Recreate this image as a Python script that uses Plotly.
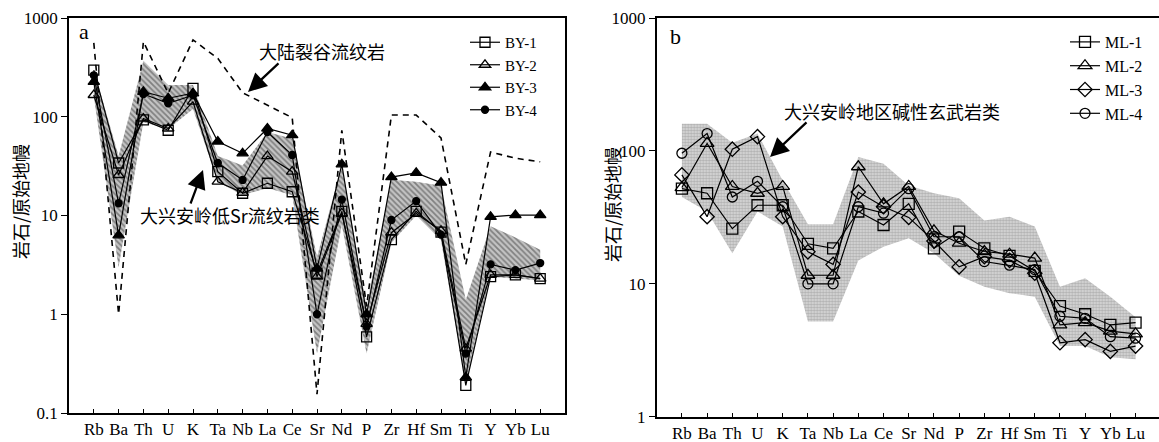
import plotly.graph_objects as go

W, H = 1159, 442

elements = ["Rb", "Ba", "Th", "U", "K", "Ta", "Nb", "La", "Ce", "Sr",
            "Nd", "P", "Zr", "Hf", "Sm", "Ti", "Y", "Yb", "Lu"]

# ---- panel a : 大兴安岭低Sr流纹岩 BY samples ----
BY1 = [297, 34, 93, 73, 194, 27.8, 16.8, 21.2, 17.4, 2.6, 11, 0.59, 5.7, 11, 6.8, 0.19, 2.4, 2.5, 2.3]
BY2 = [166, 25.7, 96, 76, 142, 22, 17, 40, 27.8, 2.4, 10.5, 0.8, 6.7, 10.5, 7.0, 0.45, 2.5, 2.5, 2.3]
BY3 = [226, 6.3, 179, 154, 173, 56, 42.6, 76, 65, 2.9, 33, 1.0, 24.5, 27, 21.5, 0.23, 9.7, 10.1, 10.1]
BY4 = [263, 13.3, 170, 137, 165, 34, 22.9, 70, 41, 1.0, 14.5, 0.75, 9, 14, 6.4, 0.40, 3.2, 2.8, 3.3]

# continental rift rhyolite (dashed)
rift = [560, 1.0, 575, 173, 600, 390, 175, 130, 98, 0.155, 73, 1.2, 104, 104, 61, 3.2, 44, 38, 35]

# 大兴安岭低Sr流纹岩类 field (hatched)
lowSr_upper = [300, 40, 370, 210, 210, 40, 32, 70, 60, 3.8, 32, 1.2, 23, 22, 20, 1.4, 7.8, 6.0, 4.5]
lowSr_lower = [160, 3.0, 88, 75, 120, 22, 16, 19, 16, 0.4, 8, 0.4, 5.3, 10, 5.6, 0.2, 2.4, 2.3, 2.2]

# ---- panel b : ML samples ----
ML1 = [52, 48, 26, 39, 39, 20, 18.5, 35, 27.7, 40, 18.5, 24.7, 18.5, 16.2, 12.5, 6.8, 5.9, 4.9, 5.1]
ML2 = [53, 114, 54, 48, 54, 11.6, 11.6, 76, 40, 54, 25, 20.2, 17.5, 16.7, 15.6, 4.9, 5.1, 4.4, 4.2]
ML3 = [66, 32, 103, 128, 32, 17.4, 14, 49, 38, 31.6, 21, 13.4, 16, 15, 12, 3.6, 3.8, 3.1, 3.4]
ML4 = [96, 135, 45, 59, 38, 10, 10, 38, 34, 52, 22.6, 22.6, 14.7, 13.8, 12.8, 5.7, 5.5, 4.0, 3.9]

# 大兴安岭地区碱性玄武岩类 field (stippled)
basalt_upper = [160, 160, 115, 135, 60, 28, 28, 90, 80, 55, 48, 44, 30, 32, 27, 9.5, 11, 8, 5.6]
basalt_lower = [45, 35, 17, 35, 27, 5.2, 5.2, 15, 19, 22, 17, 11.5, 9.5, 8.5, 8, 3.4, 3.4, 2.8, 2.7]

idx = list(range(len(elements)))

fig = go.Figure()

def band(upper, lower, xa, ya, pattern):
    xs = idx + idx[::-1]
    ys = upper + lower[::-1]
    fig.add_trace(go.Scatter(x=xs, y=ys, xaxis=xa, yaxis=ya, mode="lines",
                             fill="toself", line=dict(width=0, color="rgba(0,0,0,0)"),
                             fillcolor=pattern["bg"],
                             fillpattern=dict(shape=pattern["shape"], fgcolor=pattern["fg"],
                                              bgcolor=pattern["bg"], size=pattern["size"],
                                              solidity=pattern["sol"]),
                             showlegend=False, hoverinfo="skip"))

band(lowSr_upper, lowSr_lower, "x", "y",
     dict(shape="\\", fg="#3c3c3c", bg="#c4c4c4", size=4, sol=0.45))
band(basalt_upper, basalt_lower, "x2", "y2",
     dict(shape=".", fg="#888888", bg="#dadada", size=3, sol=0.5))

fig.add_trace(go.Scatter(x=idx, y=rift, mode="lines", xaxis="x", yaxis="y",
                         line=dict(color="black", width=1.6, dash="6px,5px"),
                         showlegend=False, hoverinfo="skip"))

series_a = [("BY-1", BY1, "square-open", 10),
            ("BY-2", BY2, "triangle-up-open", 10),
            ("BY-3", BY3, "triangle-up", 10),
            ("BY-4", BY4, "circle", 7)]
for name, vals, sym, sz in series_a:
    fig.add_trace(go.Scatter(x=idx, y=vals, name=name, mode="lines+markers",
                             xaxis="x", yaxis="y", legend="legend",
                             line=dict(color="black", width=1.2),
                             marker=dict(symbol=sym, size=sz, color="black",
                                         line=dict(color="black", width=1.3))))

series_b = [("ML-1", ML1, "square-open", 11),
            ("ML-2", ML2, "triangle-up-open", 12),
            ("ML-3", ML3, "diamond-open", 11),
            ("ML-4", ML4, "circle-open", 10)]
for name, vals, sym, sz in series_b:
    fig.add_trace(go.Scatter(x=idx, y=vals, name=name, mode="lines+markers",
                             xaxis="x2", yaxis="y2", legend="legend2",
                             line=dict(color="black", width=1.2),
                             marker=dict(symbol=sym, size=sz, color="black",
                                         line=dict(color="black", width=1.3))))

serif = "Liberation Serif"
cjk = "Noto Sans CJK SC, Noto Sans CJK JP, sans-serif"

def px(x):
    return x / W

def py(y):
    return 1 - y / H

xcommon = dict(tickmode="array", tickvals=idx, ticktext=elements, ticks="inside",
               ticklen=4, tickwidth=1, tickcolor="black", showgrid=False, zeroline=False,
               showline=True, linecolor="black", linewidth=1.5, automargin=False,
               tickfont=dict(family=serif, size=17, color="black"))
ycommon = dict(type="log", ticks="outside", ticklen=6, tickwidth=1, tickcolor="black",
               showgrid=False, zeroline=False, showline=True, linecolor="black",
               linewidth=1.5, automargin=False,
               tickfont=dict(family=serif, size=17, color="black"))

fig.update_layout(
    width=W, height=H, margin=dict(l=0, r=0, t=0, b=0, autoexpand=False),
    paper_bgcolor="white", plot_bgcolor="white",
    xaxis=dict(domain=[px(69), px(565)], range=[-1, 19], anchor="y", mirror=True, **xcommon),
    yaxis=dict(domain=[py(413), py(18)], range=[-1, 3], anchor="x", mirror=True,
               tickvals=[0.1, 1, 10, 100, 1000], ticktext=["0.1", "1", "10", "100", "1000"],
               **ycommon),
    xaxis2=dict(domain=[px(656.7), 1.0], range=[-1, 18.93], anchor="y2", mirror=True, **xcommon),
    yaxis2=dict(domain=[py(416.7), py(18)], range=[0, 3], anchor="x2", mirror=False,
                tickvals=[1, 10, 100, 1000], ticktext=["1", "10", "100", "1000"], **ycommon),
    legend=dict(x=px(465), y=py(26), xanchor="left", yanchor="top",
                font=dict(family=serif, size=15, color="black"),
                bgcolor="rgba(0,0,0,0)", tracegroupgap=0, itemwidth=30),
    legend2=dict(x=px(1065), y=py(25), xanchor="left", yanchor="top",
                 font=dict(family=serif, size=16, color="black"),
                 bgcolor="rgba(0,0,0,0)", tracegroupgap=0, itemwidth=30),
    showlegend=True,
)

def label(x, y, text, size, family, angle=0):
    return dict(x=px(x), y=py(y), xref="paper", yref="paper", text=text, showarrow=False,
                xanchor="center", yanchor="middle", textangle=angle,
                font=dict(family=family, size=size, color="#000000"))

ann = [
    label(84, 32, "a", 22, serif),
    label(675, 36, "b", 22, serif),
    label(322, 51, "大陆裂谷流纹岩", 18, cjk),
    label(230, 215, "大兴安岭低Sr流纹岩类", 18, cjk),
    label(892, 111, "大兴安岭地区碱性玄武岩类", 18, cjk),
    label(20, 202, "岩石/原始地幔", 18, cjk, -90),
    label(612, 205, "岩石/原始地幔", 18, cjk, -90),
]
# arrows (head position, tail position in px)
for hx, hy, tx, ty in [(248, 92, 280, 62), (203, 170, 190, 205), (770, 157, 808, 121)]:
    ann.append(dict(x=px(hx), y=py(hy), xref="paper", yref="paper", text="",
                    showarrow=True, ax=tx - hx, ay=ty - hy, arrowhead=2, arrowsize=1.7,
                    arrowwidth=2.2, arrowcolor="black"))
fig.update_layout(annotations=ann)

fig.write_html("out.html")
